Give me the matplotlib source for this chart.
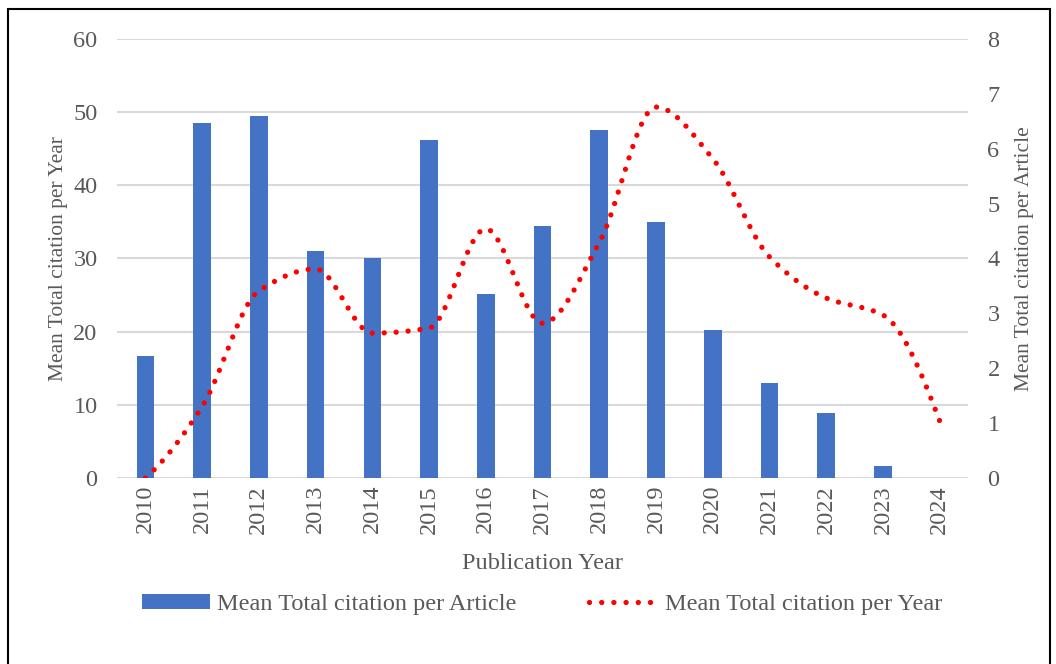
import numpy as np
import matplotlib.pyplot as plt
from matplotlib.patches import Rectangle, Patch
from matplotlib.lines import Line2D

plt.rcParams["font.family"] = ["Liberation Serif", "DejaVu Serif"]

years = [str(y) for y in range(2010, 2025)]
per_article = [16.7, 48.5, 49.5, 31.0, 30.0, 46.2, 25.2, 34.4, 47.5, 35.0, 20.2, 13.0, 8.9, 1.7, 0.0]
per_year = [0.0, 1.3, 3.41, 3.81, 2.64, 2.73, 4.54, 2.82, 4.29, 6.76, 5.82, 4.03, 3.28, 2.97, 1.04]

TXT = "#595959"
BLUE = "#4472C4"
RED = "#FF0000"
GRID = "#D9D9D9"
LW = 3.8


def smooth(xs, ys, n=40):
    # shape-preserving cubic (Fritsch-Carlson) so peaks sit on the data points
    xs = np.asarray(xs, float)
    ys = np.asarray(ys, float)
    h = np.diff(xs)
    d = np.diff(ys) / h
    m = np.zeros_like(ys)
    for i in range(1, len(ys) - 1):
        if d[i - 1] * d[i] > 0:
            w1 = 2 * h[i] + h[i - 1]
            w2 = h[i] + 2 * h[i - 1]
            m[i] = (w1 + w2) / (w1 / d[i - 1] + w2 / d[i])
    for k, (a, b, ha, hb) in enumerate([(d[0], d[1], h[0], h[1]), (d[-1], d[-2], h[-1], h[-2])]):
        e = ((2 * ha + hb) * a - ha * b) / (ha + hb)
        if np.sign(e) != np.sign(a):
            e = 0.0
        elif np.sign(a) != np.sign(b) and abs(e) > abs(3 * a):
            e = 3 * a
        m[0 if k == 0 else -1] = e
    ox, oy = [], []
    t = np.linspace(0, 1, n)
    for i in range(len(xs) - 1):
        h00 = 2 * t ** 3 - 3 * t ** 2 + 1
        h10 = t ** 3 - 2 * t ** 2 + t
        h01 = -2 * t ** 3 + 3 * t ** 2
        h11 = t ** 3 - t ** 2
        yy = h00 * ys[i] + h10 * h[i] * m[i] + h01 * ys[i + 1] + h11 * h[i] * m[i + 1]
        xx = xs[i] + t * h[i]
        if i > 0:
            xx, yy = xx[1:], yy[1:]
        ox.extend(xx)
        oy.extend(yy)
    return np.array(ox), np.array(oy)


fig = plt.figure(figsize=(10.56, 6.64), dpi=100)
ax = fig.add_axes([0.1108, 0.2801, 0.8059, 0.6612])
x = np.arange(len(years))

ax.bar(x, per_article, width=0.31, color=BLUE, zorder=2)
ax.set_xlim(-0.5, len(years) - 0.5)
ax.set_ylim(0, 60)
ax.set_yticks(range(0, 61, 10))
ax.grid(axis="y", color=GRID, linewidth=1.5, zorder=0)
ax.set_axisbelow(True)
for s in ax.spines.values():
    s.set_visible(False)
ax.tick_params(length=0, labelsize=17.5, colors=TXT)
ax.tick_params(axis="y", pad=14)
ax.tick_params(axis="x", pad=5)
ax.set_xticks(x)
ax.set_xticklabels(years, rotation=90)
ax.set_xlabel("Publication Year", fontsize=17.5, color=TXT, labelpad=14)
ax.set_ylabel("Mean Total citation per Year", fontsize=15.5, color=TXT, labelpad=4)

ax2 = ax.twinx()
ax2.set_ylim(0, 8)
ax2.set_yticks(range(0, 9))
sx, sy = smooth(x, per_year)

# fit the dots along the curve so both ends get one
pts = ax2.transData.transform(np.column_stack([sx, sy]))
length = np.hypot(*np.diff(pts, axis=0).T).sum()
lw_px = LW * fig.dpi / 72
period = length / (round(length / 12.0) + 0.05)
dots = (0, (0.01, period / lw_px - 0.01))

ax2.plot(sx, sy, color=RED, linewidth=LW, linestyle=dots,
         dash_capstyle="round", zorder=3)
for s in ax2.spines.values():
    s.set_visible(False)
ax2.tick_params(length=0, labelsize=17.5, colors=TXT, pad=14)
ax2.set_ylabel("Mean Total citation per Article", fontsize=15.5, color=TXT, labelpad=11)

handles = [
    Patch(facecolor=BLUE, edgecolor="none"),
    Line2D([], [], color=RED, linewidth=LW, linestyle=(0, (0.01, 2.3)), dash_capstyle="round"),
]
leg = fig.legend(handles, ["Mean Total citation per Article", "Mean Total citation per Year"],
                 loc="center", bbox_to_anchor=(0.513, 0.09), ncol=2, frameon=False,
                 fontsize=17.5, handlelength=2.8, handleheight=0.6, handletextpad=0.3,
                 columnspacing=3.0)
for t in leg.get_texts():
    t.set_color(TXT)

# outer frame
fig.patches.append(Rectangle((8 / 1056, -0.05), 1042 / 1056, 1.05 - 9 / 664,
                             transform=fig.transFigure, fill=False,
                             edgecolor="black", linewidth=1.5))

fig.savefig("out.png", dpi=100)
